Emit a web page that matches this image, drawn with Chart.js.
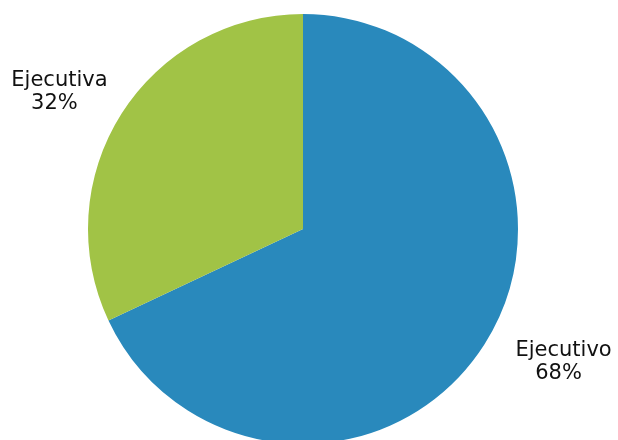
<!DOCTYPE html>
<html>
<head>
<meta charset="utf-8">
<script src="https://cdn.jsdelivr.net/npm/chart.js@4"></script>
<style>
  html, body { margin: 0; padding: 0; background: #fff; overflow: hidden; }
  #wrap { width: 618px; height: 458px; position: relative; }
</style>
</head>
<body>
<div id="wrap"><canvas id="pieChart"></canvas></div>
<script>
// Datos
const categories = ['Ejecutivo', 'Ejecutiva'];
const values = [68, 32];
const colors = ['#2989bc', '#a1c346'];

// etiquetas fuera del pastel: nombre + porcentaje
const outsideLabels = {
  id: 'outsideLabels',
  afterDatasetsDraw(chart, args, opts) {
    const ctx = chart.ctx;
    const meta = chart.getDatasetMeta(0);
    const total = values.reduce((a, b) => a + b, 0);
    ctx.save();
    ctx.font = opts.font;
    ctx.fillStyle = '#111';
    ctx.textAlign = 'center';
    ctx.textBaseline = 'middle';
    meta.data.forEach((arc, i) => {
      const p = arc.getProps(['x', 'y', 'startAngle', 'endAngle', 'outerRadius'], true);
      const mid = (p.startAngle + p.endAngle) / 2;
      const d = p.outerRadius * opts.distance;
      const nudge = opts.nudge[i] || [0, 0];
      const cx = p.x + Math.cos(mid) * d + nudge[0];
      const cy = p.y + Math.sin(mid) * d + nudge[1];
      const pct = Math.round(values[i] / total * 100) + '%';
      ctx.fillText(categories[i], cx, cy - opts.lineHeight / 2);
      ctx.fillText(pct, cx - 5, cy + opts.lineHeight / 2);
    });
    ctx.restore();
  }
};

const ctx_pie = document.getElementById('pieChart').getContext('2d');

const pieChart = new Chart(ctx_pie, {
  type: 'pie',
  data: {
    labels: categories,
    datasets: [{
      data: values,
      backgroundColor: colors,
      borderWidth: 0
    }]
  },
  options: {
    responsive: true,
    maintainAspectRatio: false,
    animation: false,
    radius: 215,
    layout: { padding: { right: 12 } },
    plugins: {
      legend: { display: false },
      tooltip: { enabled: false },
      outsideLabels: {
        font: '21px "DejaVu Sans"',
        lineHeight: 23,
        distance: 1.27,
        nudge: [[30, -13], [-13, 9]]
      }
    }
  },
  plugins: [outsideLabels]
});
</script>
</body>
</html>
